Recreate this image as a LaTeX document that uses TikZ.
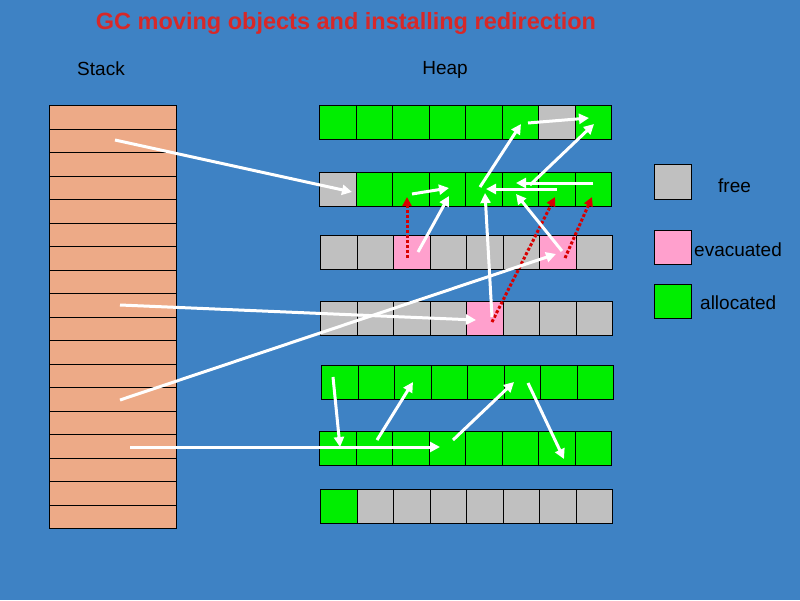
\documentclass[tikz,border=0pt]{standalone}
\usepackage{tikz}
\usetikzlibrary{arrows.meta}
\usepackage{fontspec}
\setmainfont{Liberation Sans}
\definecolor{bgblue}{RGB}{62,130,196}
\definecolor{allocG}{RGB}{0,238,0}
\definecolor{freeG}{RGB}{192,192,192}
\definecolor{evacP}{RGB}{255,160,205}
\definecolor{stackC}{RGB}{237,170,135}
\definecolor{titleR}{RGB}{215,40,40}
\tikzset{
  cell/.style={draw=black, line width=1.2pt, minimum width=36.5pt, minimum height=33.5pt, inner sep=0pt, anchor=north west},
  ptr/.style={draw=white, line width=3pt, -{Triangle[length=10pt,width=10pt]}},
  fwd/.style={draw=red!85!black, line width=3pt, dotted, -{Triangle[length=9pt,width=9pt]}},
  lbl/.style={font=\fontsize{19}{22}\selectfont, text=black, inner sep=0pt}
}
\begin{document}
\begin{tikzpicture}[x=1pt,y=-1pt]
\fill[bgblue] (0,0) rectangle (800,600);
\useasboundingbox (0,0) rectangle (800,600);
\node[text=titleR, font=\fontsize{23.5}{27}\selectfont\bfseries] (title) at (346,23) {GC moving objects and installing redirection};
\node[lbl] (stacklbl) at (101,69) {Stack};
\node[lbl] (heaplbl) at (445,70) {Heap};
% stack slots
\foreach \i in {0,...,17}
  \node[cell, fill=stackC, minimum width=127pt, minimum height=23.5pt, line width=1pt] (s\i) at (49,105+23.5*\i) {};
% heap rows: y, x, colours
\foreach \r/\y/\x/\cols in {1/105/319/{allocG,allocG,allocG,allocG,allocG,allocG,freeG,allocG},
  2/172/319/{freeG,allocG,allocG,allocG,allocG,allocG,allocG,allocG},
  3/235/320/{freeG,freeG,evacP,freeG,freeG,freeG,evacP,freeG},
  4/301/320/{freeG,freeG,freeG,freeG,evacP,freeG,freeG,freeG},
  5/365/321/{allocG,allocG,allocG,allocG,allocG,allocG,allocG,allocG},
  6/431/319/{allocG,allocG,allocG,allocG,allocG,allocG,allocG,allocG},
  7/489/320/{allocG,freeG,freeG,freeG,freeG,freeG,freeG,freeG}} {
  \foreach \c [count=\j from 0] in \cols
    \node[cell, fill=\c] (r\r c\j) at (\x+36.5*\j,\y) {};
}
% legend
\node[cell, fill=freeG, minimum width=37pt, minimum height=35pt] (kfree) at (654,164) {};
\node[cell, fill=evacP, minimum width=37pt, minimum height=34pt] (kevac) at (654,230) {};
\node[cell, fill=allocG, minimum width=37pt, minimum height=34pt] (kalloc) at (654,284) {};
\node[lbl, anchor=west] at (718,186) {free};
\node[lbl, anchor=west] at (694,250) {evacuated};
\node[lbl, anchor=west] at (700,303) {allocated};
% forwarding
\draw[fwd] (407,258) -- (407,197);
\draw[fwd] (492,322) -- (555,197);
\draw[fwd] (565,258) -- (592,197);
% pointers
\draw[ptr] (115,140) -- (352,192);
\draw[ptr] (120,305) -- (476,320);
\draw[ptr] (120,400) -- (556,254);
\draw[ptr] (130,447) -- (440,447);
\draw[ptr] (528,123) -- (589,118);
\draw[ptr] (480,187) -- (521,124);
\draw[ptr] (530,185) -- (594,124);
\draw[ptr] (593,183) -- (516,183);
\draw[ptr] (557,189) -- (486,189);
\draw[ptr] (412,194) -- (449,188);
\draw[ptr] (418,252) -- (449,196);
\draw[ptr] (562,251) -- (516,194);
\draw[ptr] (492,317) -- (485,193);
\draw[ptr] (333,377) -- (340,447);
\draw[ptr] (377,440) -- (413,382);
\draw[ptr] (453,440) -- (514,382);
\draw[ptr] (528,383) -- (564,459);
\end{tikzpicture}
\end{document}
